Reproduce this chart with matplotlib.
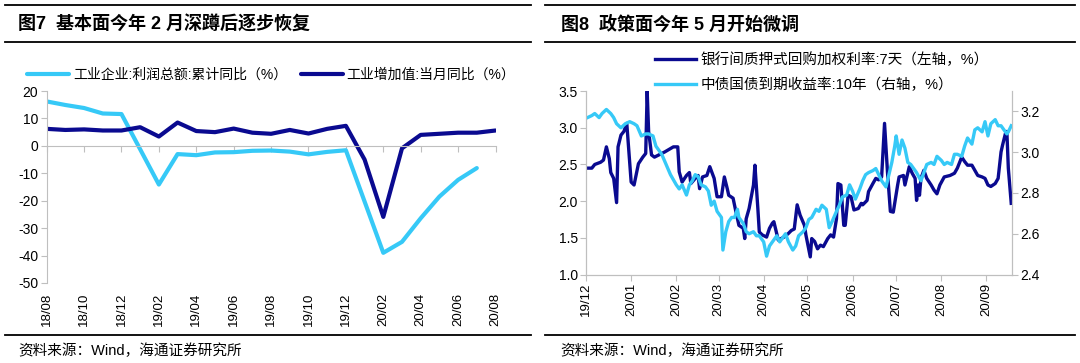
import matplotlib
matplotlib.use("Agg")
import matplotlib.pyplot as plt
import matplotlib.dates as mdates
import numpy as np
import pandas as pd
from matplotlib.lines import Line2D

plt.rcParams['font.family'] = ['Liberation Sans', 'Noto Sans CJK SC']
plt.rcParams['axes.unicode_minus'] = False

# --------------------------------
# Data: figure 7 (monthly)
# --------------------------------
months = ['18/08', '18/09', '18/10', '18/11', '18/12', '19/01', '19/02', '19/03',
          '19/04', '19/05', '19/06', '19/07', '19/08', '19/09', '19/10', '19/11',
          '19/12', '20/01', '20/02', '20/03', '20/04', '20/05', '20/06', '20/07', '20/08']
profit_yoy = [16.2, 14.9, 13.8, 11.8, 11.6, np.nan, -14.1, -3.0, -3.4, -2.4, -2.3,
              -1.8, -1.7, -2.1, -3.1, -2.2, -1.6, np.nan, -39.0, -35.0, -26.4,
              -18.5, -12.4, -8.1, np.nan]
output_yoy = [6.2, 5.8, 6.0, 5.6, 5.6, 6.8, 3.4, 8.5, 5.4, 5.0, 6.3, 4.8, 4.4, 5.8,
              4.5, 6.2, 7.3, -5.0, -25.9, -0.9, 4.0, 4.4, 4.8, 4.8, 5.6]

# --------------------------------
# Data: figure 8 (daily)
# --------------------------------
repo_dates = ['2019-12-02', '2019-12-05', '2019-12-07', '2019-12-11', '2019-12-13',
              '2019-12-15', '2019-12-17', '2019-12-18', '2019-12-20', '2019-12-22',
              '2019-12-23', '2019-12-25', '2019-12-27', '2019-12-29', '2020-01-01',
              '2020-01-03', '2020-01-06', '2020-01-09', '2020-01-11', '2020-01-12',
              '2020-01-13', '2020-01-15', '2020-01-17', '2020-01-20', '2020-01-24',
              '2020-01-30', '2020-02-02', '2020-02-03', '2020-02-05', '2020-02-08',
              '2020-02-10', '2020-02-11', '2020-02-14', '2020-02-16', '2020-02-17',
              '2020-02-19', '2020-02-22', '2020-02-24', '2020-02-27', '2020-02-29',
              '2020-03-03', '2020-03-05', '2020-03-07', '2020-03-08', '2020-03-11',
              '2020-03-13', '2020-03-15', '2020-03-18', '2020-03-19', '2020-03-20',
              '2020-03-22', '2020-03-25', '2020-03-26', '2020-03-28', '2020-03-29',
              '2020-03-31', '2020-04-03', '2020-04-05', '2020-04-07', '2020-04-08',
              '2020-04-11', '2020-04-13', '2020-04-15', '2020-04-18', '2020-04-20',
              '2020-04-22', '2020-04-24', '2020-04-26', '2020-04-29', '2020-04-30',
              '2020-05-03', '2020-05-04', '2020-05-06', '2020-05-08', '2020-05-10',
              '2020-05-12', '2020-05-15', '2020-05-17', '2020-05-19', '2020-05-21',
              '2020-05-22', '2020-05-24', '2020-05-26', '2020-05-27', '2020-05-29',
              '2020-05-31', '2020-06-02', '2020-06-05', '2020-06-07', '2020-06-08',
              '2020-06-11', '2020-06-12', '2020-06-15', '2020-06-17', '2020-06-19',
              '2020-06-21', '2020-06-23', '2020-06-25', '2020-06-27', '2020-06-29',
              '2020-07-02', '2020-07-03', '2020-07-06', '2020-07-07', '2020-07-10',
              '2020-07-12', '2020-07-14', '2020-07-15', '2020-07-16', '2020-07-17',
              '2020-07-18', '2020-07-20', '2020-07-22', '2020-07-25', '2020-07-27',
              '2020-07-29', '2020-07-31', '2020-08-03', '2020-08-07', '2020-08-10',
              '2020-08-12', '2020-08-15', '2020-08-17', '2020-08-19', '2020-08-22',
              '2020-08-24', '2020-08-26', '2020-08-29', '2020-08-31', '2020-09-02',
              '2020-09-04', '2020-09-07', '2020-09-09', '2020-09-11', '2020-09-12',
              '2020-09-14', '2020-09-15', '2020-09-16', '2020-09-18']
repo_rate = [2.45, 2.45, 2.50, 2.53, 2.56, 2.74, 2.58, 2.39, 2.31, 1.98,
             2.74, 2.90, 2.95, 3.06, 2.26, 2.22, 2.51, 2.60, 2.65, 3.50,
             2.95, 2.63, 2.60, 2.63, 2.67, 2.74, 2.74, 2.40, 2.26, 2.35,
             2.39, 2.24, 2.31, 2.35, 2.17, 2.33, 2.35, 2.47, 2.31, 2.06,
             2.06, 2.33, 2.17, 2.08, 2.04, 1.85, 1.67, 1.63, 1.49, 1.76,
             1.90, 2.22, 2.49, 1.90, 1.58, 1.54, 1.51, 1.63, 1.70, 1.72,
             1.47, 1.49, 1.51, 1.56, 1.60, 1.62, 1.95, 1.81, 1.67, 1.54,
             1.24, 1.49, 1.45, 1.35, 1.40, 1.38, 1.49, 1.54, 1.51, 1.76,
             2.24, 2.22, 1.67, 1.67, 2.08, 2.06, 1.88, 1.90, 1.97, 1.95,
             2.01, 2.13, 2.24, 2.31, 2.29, 2.33, 3.06, 2.40, 1.86, 1.85,
             2.22, 2.33, 2.35, 2.22, 2.47, 2.38, 2.31, 2.01, 2.22, 2.08,
             2.31, 2.42, 2.31, 2.22, 2.15, 2.10, 2.22, 2.33, 2.35, 2.38,
             2.45, 2.60, 2.54, 2.49, 2.49, 2.42, 2.35, 2.33, 2.31, 2.22,
             2.20, 2.24, 2.31, 2.67, 2.76, 2.92, 2.95, 2.45, 1.97]

bond_dates = ['2019-12-02', '2019-12-05', '2019-12-07', '2019-12-10', '2019-12-12',
              '2019-12-15', '2019-12-18', '2019-12-20', '2019-12-22', '2019-12-25',
              '2019-12-28', '2019-12-31', '2020-01-03', '2020-01-05', '2020-01-08',
              '2020-01-11', '2020-01-13', '2020-01-16', '2020-01-18', '2020-01-22',
              '2020-01-25', '2020-01-28', '2020-02-01', '2020-02-03', '2020-02-05',
              '2020-02-08', '2020-02-10', '2020-02-12', '2020-02-14', '2020-02-16',
              '2020-02-18', '2020-02-21', '2020-02-23', '2020-02-25', '2020-02-27',
              '2020-02-29', '2020-03-03', '2020-03-04', '2020-03-06', '2020-03-08',
              '2020-03-10', '2020-03-12', '2020-03-14', '2020-03-15', '2020-03-18',
              '2020-03-20', '2020-03-22', '2020-03-25', '2020-03-27', '2020-03-29',
              '2020-04-01', '2020-04-03', '2020-04-05', '2020-04-07', '2020-04-10',
              '2020-04-12', '2020-04-14', '2020-04-16', '2020-04-18', '2020-04-21',
              '2020-04-23', '2020-04-25', '2020-04-28', '2020-04-30', '2020-05-02',
              '2020-05-04', '2020-05-07', '2020-05-09', '2020-05-11', '2020-05-14',
              '2020-05-16', '2020-05-18', '2020-05-21', '2020-05-23', '2020-05-25',
              '2020-05-28', '2020-05-30', '2020-06-01', '2020-06-03', '2020-06-06',
              '2020-06-08', '2020-06-10', '2020-06-12', '2020-06-15', '2020-06-17',
              '2020-06-19', '2020-06-21', '2020-06-24', '2020-06-26', '2020-06-28',
              '2020-06-30', '2020-07-01', '2020-07-03', '2020-07-05', '2020-07-07',
              '2020-07-09', '2020-07-11', '2020-07-13', '2020-07-15', '2020-07-18',
              '2020-07-20', '2020-07-22', '2020-07-25', '2020-07-27', '2020-07-29',
              '2020-08-01', '2020-08-03', '2020-08-05', '2020-08-08', '2020-08-10',
              '2020-08-12', '2020-08-15', '2020-08-17', '2020-08-19', '2020-08-22',
              '2020-08-24', '2020-08-26', '2020-08-29', '2020-08-31', '2020-09-02',
              '2020-09-04', '2020-09-07', '2020-09-09', '2020-09-11', '2020-09-13',
              '2020-09-15', '2020-09-16', '2020-09-18']
bond_yield = [3.17, 3.18, 3.19, 3.17, 3.19, 3.21, 3.19, 3.17, 3.14, 3.12,
              3.14, 3.15, 3.14, 3.13, 3.08, 3.09, 3.09, 3.08, 3.03, 2.99,
              2.94, 2.89, 2.84, 2.82, 2.84, 2.79, 2.84, 2.86, 2.89, 2.88,
              2.84, 2.83, 2.81, 2.74, 2.76, 2.71, 2.68, 2.52, 2.61, 2.66,
              2.68, 2.68, 2.72, 2.68, 2.65, 2.61, 2.60, 2.61, 2.59, 2.59,
              2.56, 2.49, 2.54, 2.56, 2.59, 2.56, 2.58, 2.60, 2.56, 2.52,
              2.54, 2.59, 2.61, 2.63, 2.67, 2.68, 2.72, 2.71, 2.74, 2.72,
              2.63, 2.66, 2.71, 2.74, 2.78, 2.79, 2.84, 2.81, 2.77, 2.82,
              2.86, 2.89, 2.90, 2.91, 2.92, 2.89, 2.86, 2.83, 2.89, 2.95,
              3.03, 3.08, 2.99, 3.06, 3.02, 2.95, 2.94, 2.92, 2.90, 2.86,
              2.90, 2.94, 2.95, 2.94, 2.98, 2.96, 2.94, 2.95, 2.94, 2.99,
              2.99, 2.98, 3.03, 3.07, 3.04, 3.11, 3.12, 3.10, 3.15, 3.08,
              3.14, 3.16, 3.13, 3.13, 3.11, 3.09, 3.10, 3.13]

LIGHT = '#36C9F7'
DARK = '#0A0A90'
GRID = '#BFBFBF'

fig = plt.figure(figsize=(10.8, 3.63), dpi=100)

# --------------------------------
# Panel frames, titles, sources
# --------------------------------
for x0, x1 in [(0.005, 0.492), (0.505, 0.995)]:
    for y in [0.986, 0.884, 0.077]:
        fig.add_artist(Line2D([x0, x1], [y, y], color='black', lw=1.3))

fig.text(0.017, 0.931, '图7  基本面今年 2 月深蹲后逐步恢复', fontsize=13,
         fontweight='bold', va='center')
fig.text(0.519, 0.931, '图8  政策面今年 5 月开始微调', fontsize=13,
         fontweight='bold', va='center')
fig.text(0.017, 0.033, '资料来源：Wind，海通证券研究所', fontsize=10.5, va='center')
fig.text(0.519, 0.033, '资料来源：Wind，海通证券研究所', fontsize=10.5, va='center')

# --------------------------------
# Figure 7
# --------------------------------
ax1 = fig.add_axes([0.0432, 0.2204, 0.4156, 0.5289])
x = np.arange(len(months))
p = pd.Series(profit_yoy, index=x).dropna()
ax1.plot(p.index, p.values, color=LIGHT, lw=3, solid_capstyle='round',
         label='工业企业:利润总额:累计同比（%）')
ax1.plot(x, output_yoy, color=DARK, lw=3, solid_capstyle='round',
         label='工业增加值:当月同比（%）')
ax1.set_xlim(0, 24)
ax1.set_ylim(-50, 20)
ax1.set_yticks(range(-50, 21, 10))
for s in ['top', 'right']:
    ax1.spines[s].set_visible(False)
ax1.spines['left'].set_color(GRID)
ax1.spines['bottom'].set_color(GRID)
ax1.spines['bottom'].set_position(('data', 0))
ax1.set_xticks(x[::2])
ax1.tick_params(axis='x', length=4, color=GRID, labelbottom=False)
ax1.tick_params(axis='y', length=4, color=GRID, labelsize=10, pad=2)

sec = ax1.secondary_xaxis('bottom')
sec.set_xticks(x[::2])
sec.set_xticklabels(months[::2], rotation=90, fontsize=9.5)
sec.tick_params(length=0, pad=7)
sec.spines['bottom'].set_visible(False)

fig.legend(handles=ax1.get_lines(), loc='center left', bbox_to_anchor=(0.025, 0.793),
           ncol=2, frameon=False, fontsize=10, handlelength=3.0, handletextpad=0.3,
           columnspacing=1.0, borderaxespad=0, borderpad=0)

# --------------------------------
# Figure 8
# --------------------------------
ax2 = fig.add_axes([0.5426, 0.2438, 0.3944, 0.5052])
ax2r = ax2.twinx()
rd = pd.to_datetime(repo_dates)
bd = pd.to_datetime(bond_dates)
l1, = ax2.plot(rd, repo_rate, color=DARK, lw=2.4,
               label='银行间质押式回购加权利率:7天（左轴，%）')
l2, = ax2r.plot(bd, bond_yield, color=LIGHT, lw=2.4,
                label='中债国债到期收益率:10年（右轴，%）')
ax2.set_ylim(1.0, 3.5)
ax2.set_yticks(np.arange(1.0, 3.51, 0.5))
ax2.yaxis.set_major_formatter(plt.FormatStrFormatter('%.1f'))
ax2r.set_ylim(2.4, 3.3)
ax2r.set_yticks([2.4, 2.6, 2.8, 3.0, 3.2])
ax2r.yaxis.set_major_formatter(plt.FormatStrFormatter('%.1f'))
ax2.set_xlim(pd.Timestamp('2019-12-01'), pd.Timestamp('2020-09-18 12:00'))
ax2.xaxis.set_major_locator(mdates.MonthLocator())
ax2.xaxis.set_major_formatter(mdates.DateFormatter('%y/%m'))
for a in [ax2, ax2r]:
    a.spines['top'].set_visible(False)
    for s in ['left', 'right', 'bottom']:
        a.spines[s].set_color(GRID)
    a.tick_params(axis='both', length=4, color=GRID, labelsize=10, pad=2)
plt.setp(ax2.get_xticklabels(), rotation=90, fontsize=9.5)

fig.legend(handles=[l1, l2], loc='upper left', bbox_to_anchor=(0.6065, 0.857),
           ncol=1, frameon=False, fontsize=10.5, handlelength=2.8, handletextpad=0.3,
           labelspacing=0.75, borderaxespad=0, borderpad=0)

fig.savefig('out.png', dpi=100)
